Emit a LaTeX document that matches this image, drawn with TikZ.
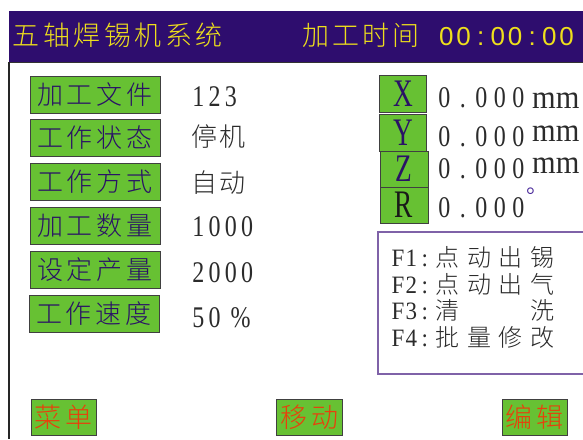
\documentclass[tikz,border=0pt]{standalone}
\usepackage{fontspec}
\IfFontExistsTF{Noto Sans CJK SC Light}
  {\newfontfamily\cjk{Noto Sans CJK SC Light}}
  {\newfontfamily\cjk{Noto Sans CJK SC}}
\newfontfamily\nserif[FakeStretch=0.8]{Liberation Serif}
\newfontfamily\lserif[FakeStretch=0.7]{Liberation Serif}
\newfontfamily\mserif[FakeStretch=0.92]{Liberation Serif}
\newfontfamily\hsans{Liberation Sans}
\newfontfamily\dserif{Liberation Serif}
\definecolor{hdr}{HTML}{2E0D6E}
\definecolor{hdrtext}{HTML}{EEDF1C}
\definecolor{btn}{HTML}{67C133}
\definecolor{labtext}{HTML}{2A1266}
\definecolor{valtext}{HTML}{2B2B2B}
\definecolor{fbord}{HTML}{7F62A8}
\definecolor{redtext}{HTML}{E8400C}
\definecolor{degc}{HTML}{4A2A9A}
\makeatletter
\newcommand\cells[2]{\def\cells@w{#1}\@tfor\cells@t:=#2\do{\makebox[\cells@w][c]{\cells@t}}}
\makeatother
\tikzset{
  gbox/.style={draw=black!75, fill=btn, line width=1pt, inner sep=0pt},
  lab/.style={gbox, minimum width=130pt, minimum height=37pt, text=labtext,
    font=\cjk\fontsize{26}{26}\selectfont},
  val/.style={anchor=west, inner sep=0pt, text=valtext},
  axis/.style={gbox, minimum width=47pt, font=\lserif\fontsize{39}{39}\selectfont},
  menu/.style={gbox, minimum width=65pt, minimum height=36pt, text=redtext,
    font=\cjk\fontsize{27}{27}\selectfont},
  fline/.style={anchor=west, inner sep=0pt, text=valtext},
}
\newcommand\fl[2]{{\mserif\fontsize{25}{25}\selectfont\cells{13.5pt}{#1}}{\cjk\fontsize{24}{24}\selectfont\cells{31.7pt}{#2}}}
\begin{document}
\begin{tikzpicture}[x=1pt,y=-1pt]
\useasboundingbox (0,0) rectangle (583,439);
% header
\fill[hdr] (9,11) rectangle (583,62);
\draw[black!80, line width=1pt] (9,62) -- (583,62);
\draw[black!85, line width=1.5pt] (9,62) -- (9,439);
\node[anchor=west, inner sep=0pt, text=hdrtext, font=\cjk\fontsize{27}{27}\selectfont] (title) at (11,35.5) {\cells{30.5pt}{五轴焊锡机系统}};
\node[anchor=west, inner sep=0pt, text=hdrtext] (ptime) at (300.5,35.5)
  {{\cjk\fontsize{27}{27}\selectfont\cells{30pt}{加工时间}}\hspace{17pt}{\hsans\fontsize{26}{26}\selectfont\cells{17.2pt}{00:00:00}}};
% left labels
\node[lab] (l1) at (95,94.5) {\cells{30pt}{加工文件}};
\node[lab] (l2) at (95,137.5) {\cells{30pt}{工作状态}};
\node[lab] (l3) at (95,182) {\cells{30pt}{工作方式}};
\node[lab] (l4) at (95,225.5) {\cells{30pt}{加工数量}};
\node[lab] (l5) at (95,269.5) {\cells{30pt}{设定产量}};
\node[lab] (l6) at (94,314) {\cells{30pt}{工作速度}};
% values
\node[val, font=\nserif\fontsize{30}{30}\selectfont] (v1) at (190,97) {\cells{16.3pt}{123}};
\node[val, font=\cjk\fontsize{26}{26}\selectfont] (v2) at (190,137) {\cells{28pt}{停机}};
\node[val, font=\cjk\fontsize{26}{26}\selectfont] (v3) at (190,182.5) {\cells{28pt}{自动}};
\node[val, font=\nserif\fontsize{30}{30}\selectfont] (v4) at (190,226.5) {\cells{16.3pt}{1000}};
\node[val, font=\nserif\fontsize{30}{30}\selectfont] (v5) at (190,272.5) {\cells{16.3pt}{2000}};
\node[val, font=\nserif\fontsize{30}{30}\selectfont] (v6) at (190,317.5) {\cells{16.3pt}{50}\hspace{9.7pt}\makebox[16.3pt]{\%}};
% axis boxes
\node[axis, minimum height=37pt, text=labtext] (ax) at (403,93.5) {X};
\node[axis, minimum height=37pt, text=labtext] (ay) at (403,132.5) {Y};
\node[axis, minimum height=36pt, text=labtext, minimum width=48pt] (az) at (404,169) {Z};
\node[axis, minimum height=36pt, text=black!90, minimum width=48pt] (ar) at (404,205) {R};
% axis values
\node[val, font=\nserif\fontsize{30}{30}\selectfont] (px) at (435,98) {\cells{18.5pt}{0.000}};
\node[val, font=\nserif\fontsize{30}{30}\selectfont] (py) at (435,137) {\cells{18.5pt}{0.000}};
\node[val, font=\nserif\fontsize{30}{30}\selectfont] (pz) at (435,169) {\cells{18.5pt}{0.000}};
\node[val, font=\nserif\fontsize{30}{30}\selectfont] (pr) at (435,207.5) {\cells{18.5pt}{0.000}};
\node[val, font=\mserif\fontsize{33}{33}\selectfont] (ux) at (532,100.5) {mm};
\node[val, font=\mserif\fontsize{33}{33}\selectfont] (uy) at (532,133.5) {mm};
\node[val, font=\mserif\fontsize{33}{33}\selectfont] (uz) at (532,166) {mm};
\node[anchor=base, inner sep=0pt, text=degc, font=\dserif\fontsize{22}{22}\selectfont] (deg) at (530.5,202.5) {°};
% function key box
\draw[fbord, line width=1.2pt] (378,232) rectangle (590,374);
\node[fline] (f1) at (391,257) {\fl{F1:}{点动出锡}};
\node[fline] (f2) at (391,284) {\fl{F2:}{点动出气}};
\node[fline] (f3) at (391,310) {\fl{F3:}{清~~洗}};
\node[fline] (f4) at (391,337) {\fl{F4:}{批量修改}};
% bottom buttons
\node[menu] (b1) at (63.5,417) {\cells{31pt}{菜单}};
\node[menu, minimum width=66pt] (b2) at (309,417) {\cells{31pt}{移动}};
\node[menu] (b3) at (534.5,417) {\cells{31pt}{编辑}};
\end{tikzpicture}
\end{document}
